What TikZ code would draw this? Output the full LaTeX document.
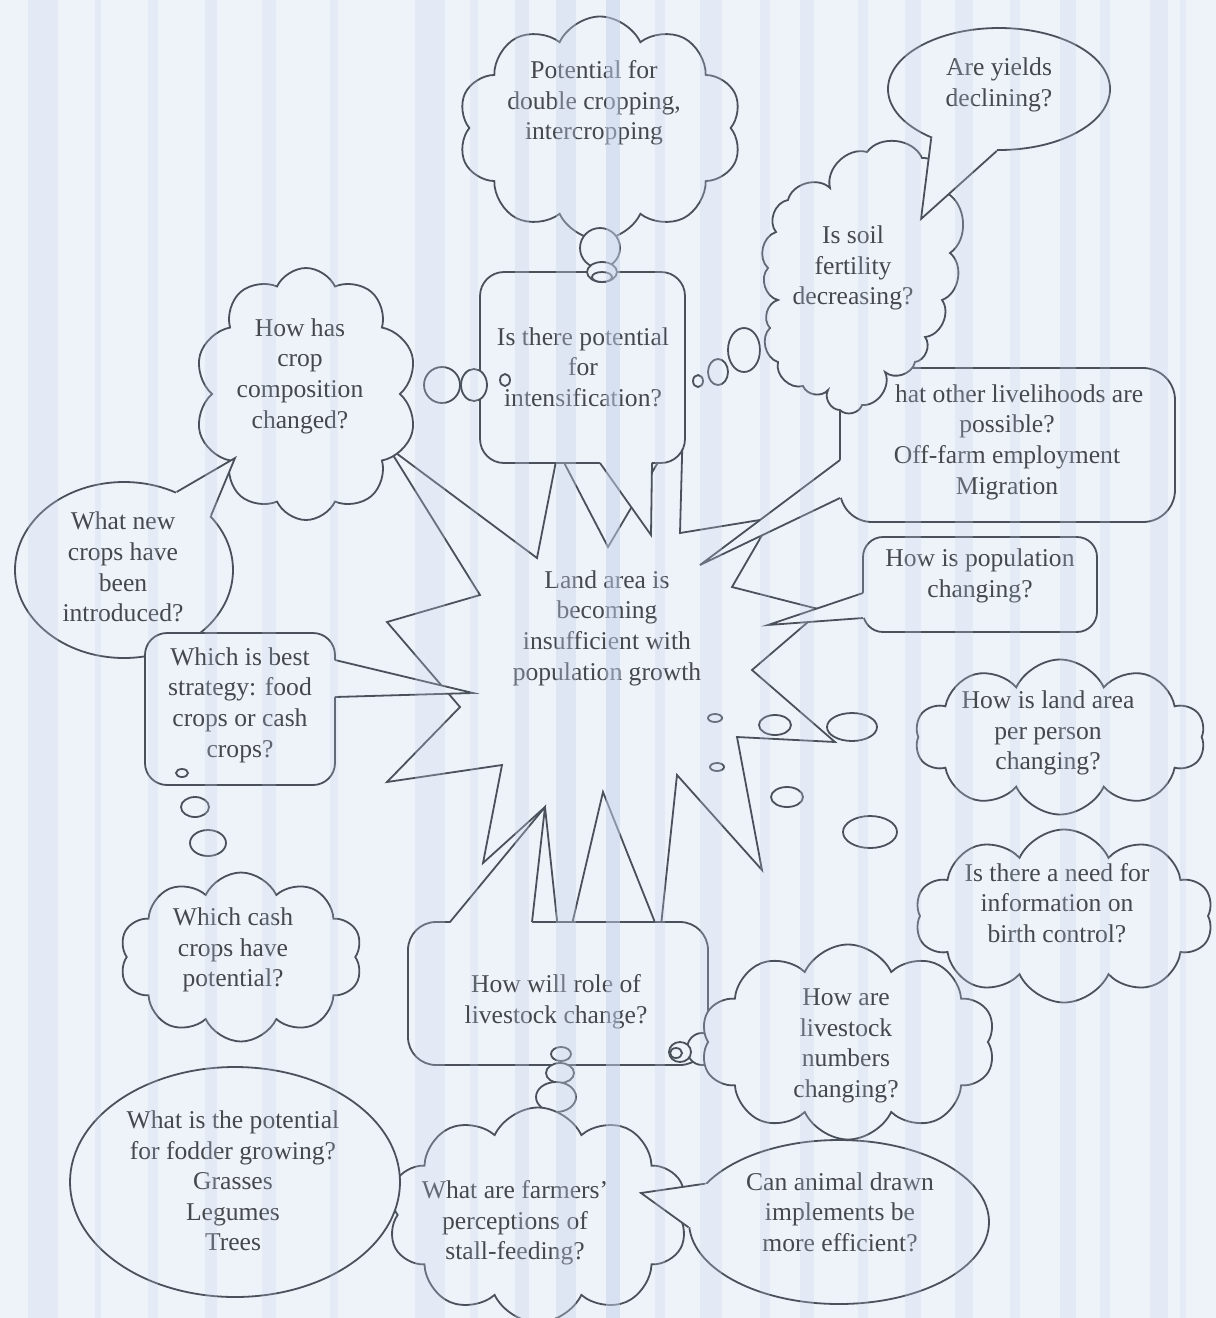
\documentclass[tikz,border=0pt]{standalone}
\usepackage{fontspec}
\setmainfont{Liberation Serif}
\usetikzlibrary{shapes.symbols,shapes.geometric,calc}
\definecolor{bgc}{HTML}{EEF2F9}
\definecolor{lnc}{HTML}{4B515B}
\definecolor{txc}{HTML}{45484D}
\definecolor{stb}{HTML}{C4D2EA}
\tikzset{
 outl/.style={draw=lnc, line width=0.9pt, fill=bgc},
 lnst/.style={draw=lnc, line width=0.9pt, line join=miter},
 txt/.style={text=txc, font=\fontsize{12.8}{15.3}\selectfont, align=center, inner sep=0pt},
 cld/.style={outl, cloud, cloud puffs=10, cloud puff arc=130, cloud ignores aspect, inner sep=0pt},
 oval/.style={outl, ellipse, inner sep=0pt},
 rbox/.style={outl, rectangle, inner sep=0pt},
 bub/.style={outl, ellipse, inner sep=0pt},
 lobe/.style={bend left=60},
}
\newcommand\callptr[4]{%
  \fill[bgc] (#1) -- (#2) -- (#3) -- ($(#3)!3pt!(#4)$) -- ($(#1)!3pt!(#4)$) -- cycle;
  \draw[lnst] (#1) -- (#2) -- (#3);}
\begin{document}
\begin{tikzpicture}[x=0.5pt,y=-0.5pt]
\fill[bgc] (0,0) rectangle (1216,1318);
\useasboundingbox (0,0) rectangle (1216,1318);

% central starburst
\draw[outl, line join=miter] (388,447) -- (480,595) -- (387,622) -- (460,707) -- (387,782) -- (502,765) -- (483,863) -- (545,807) -- (562,967) -- (603,792) -- (660,935) -- (677,775) -- (762,870) -- (737,737) -- (835,742) -- (752,670) -- (822,610) -- (732,587) -- (772,518) -- (680,533) -- (683,420) -- (608,547) -- (558,451) -- (537,558) -- cycle;
\node[txt] (tLand) at (607,628) {Land area is\\becoming\\insufficient with\\population growth};

% potential cloud
\node[cld, minimum width=142pt, minimum height=111.5pt] (cPot) at (600,128) {};
\node[txt] (tPot) at (594,103) {Potential for\\double cropping,\\intercropping};

% intensification box
\node[rbox, rounded corners=12pt, minimum width=102.5pt, minimum height=95.5pt] (IB) at (582.5,367.5) {};
\callptr{600,463}{651,535}{652,463}{IB.center}
\node[txt] (tInt) at (583,367) {Is there potential\\for\\intensification?};
\node[bub, minimum width=20pt, minimum height=20pt] (pb1) at (600,248) {};
\node[bub, minimum width=15pt, minimum height=10pt] (pb2) at (602,272) {};
\node[bub, minimum width=10pt, minimum height=5pt] (pb3) at (602,277) {};

% crop composition cloud
\node[cld, minimum width=111.5pt, minimum height=126pt] (cCrop) at (306,394) {};
\node[txt] (tCrop) at (300,376) {How has\\crop\\composition\\changed?};
\node[bub, minimum width=18pt, minimum height=18pt] (cb1) at (442,385) {};
\node[bub, minimum width=13pt, minimum height=16pt] (cb2) at (474,385) {};
\node[bub, minimum width=5pt, minimum height=6pt] (cb3) at (505,380) {};

% new crops ellipse
\node[oval, minimum width=109pt, minimum height=88pt] (nce) at (124,570) {};
\callptr{nce.56}{235,458}{nce.32}{nce.center}
\node[txt] (tNew) at (123,567) {What new\\crops have\\been\\introduced?};

% strategy box
\node[rbox, rounded corners=11pt, minimum width=95pt, minimum height=76pt] (SB) at (240,709) {};
\callptr{335,660}{473,693}{335,697}{SB.center}
\node[txt] (tStrat) at (240,705) {Which is best\\strategy: food\\crops or cash\\crops?};
\node[bub, minimum width=6pt, minimum height=4pt] (sb1) at (182,773) {};
\node[bub, minimum width=14pt, minimum height=10pt] (sb2) at (195,807) {};
\node[bub, minimum width=18pt, minimum height=13pt] (sb3) at (208,843) {};

% cash crops cloud
\node[cld, minimum width=121.5pt, minimum height=84.5pt] (cCash) at (241,957) {};
\node[txt] (tCash) at (233,950) {Which cash\\crops have\\potential?};

% livelihoods box
\node[rbox, rounded corners=16pt, minimum width=167.5pt, minimum height=77pt] (LB) at (1007.5,445) {};
\callptr{840,460}{700,565}{840,498}{LB.center}
\node[txt] (tLive) at (1007,442) {\phantom{W}hat other livelihoods are\\possible?\\Off-farm employment\\Migration};

% fertility cloud (irregular)
\node[bub, minimum width=5pt, minimum height=6pt] (fb1) at (698,381) {};
\node[bub, minimum width=10pt, minimum height=13pt] (fb2) at (718,372) {};
\node[bub, minimum width=16pt, minimum height=22pt] (fb3) at (744,350) {};
\draw[outl] (788,200) to[lobe] (830,188) to[lobe] (867,152) to[lobe] (922,158) to[lobe] (945,192) to[lobe] (950,253) to[lobe] (942,300) to[lobe] (925,337) to[lobe] (915,362) to[lobe] (885,372) to[lobe] (862,405) to[lobe] (840,410) to[lobe] (828,390) to[lobe] (803,386) to[lobe] (778,362) to[lobe] (770,328) to[lobe] (778,300) to[lobe] (768,268) to[lobe] (776,232) to[lobe] (788,200) -- cycle;
\node[txt] (tFert) at (853,268) {Is soil\\fertility\\decreasing?};

% yields ellipse
\node[oval, minimum width=111pt, minimum height=61pt] (yel) at (999,89) {};
\callptr{yel.216}{921,219}{yel.268}{yel.center}
\node[txt] (tYld) at (999,85) {Are yields\\declining?};

% population box
\node[rbox, rounded corners=10pt, minimum width=117pt, minimum height=47.5pt] (PB) at (980,584.5) {};
\callptr{863,593}{768,625}{863,618}{PB.center}
\node[txt] (tPop) at (980,576) {How is population\\changing?};

% bubbles to right clouds
\node[bub, minimum width=7pt, minimum height=4pt] (ra1) at (715,718) {};
\node[bub, minimum width=16pt, minimum height=10pt] (ra2) at (775,725) {};
\node[bub, minimum width=25pt, minimum height=14pt] (ra3) at (852,727) {};
\node[bub, minimum width=7pt, minimum height=4pt] (rb1) at (717,767) {};
\node[bub, minimum width=16pt, minimum height=10pt] (rb2) at (787,797) {};
\node[bub, minimum width=27pt, minimum height=16pt] (rb3) at (870,832) {};

\node[cld, minimum width=145pt, minimum height=77.5pt] (cLand) at (1060,737) {};
\node[txt] (tLandPP) at (1048,733) {How is land area\\per person\\changing?};
\node[cld, minimum width=149pt, minimum height=86.5pt] (cBirth) at (1064,916) {};
\node[txt] (tBirth) at (1057,903) {Is there a need for\\information on\\birth control?};

% livestock box
\node[rbox, rounded corners=14pt, minimum width=150pt, minimum height=71.5pt] (RB) at (558,993.5) {};
\callptr{450,922}{545,807}{532,922}{RB.center}
\node[txt] (tRole) at (556,1002) {How will role of\\livestock change?};
\node[bub, minimum width=10pt, minimum height=7pt] (lb1) at (561,1054) {};
\node[bub, minimum width=14pt, minimum height=10pt] (lb2) at (560,1073) {};
\node[bub, minimum width=20pt, minimum height=15pt] (lb3) at (556,1097) {};
\node[bub, minimum width=15pt, minimum height=16pt] (lr2) at (702,1049) {};
\node[bub, minimum width=11pt, minimum height=10pt] (lr1) at (680,1052) {};
\node[bub, minimum width=6pt, minimum height=5pt] (lr0) at (676,1053) {};

% livestock numbers cloud
\node[cld, minimum width=147.5pt, minimum height=97.5pt] (cLstk) at (848,1042) {};
\node[txt] (tLstk) at (846,1046) {How are\\livestock\\numbers\\changing?};

% farmers cloud
\node[cld, minimum width=150pt, minimum height=107.5pt] (cFarm) at (538,1215) {};
\node[txt] (tFarm) at (515,1223) {What are farmers'\\perceptions of\\stall-feeding?};

% fodder ellipse
\node[oval, minimum width=165pt, minimum height=115pt] (fod) at (235,1182) {};
\node[txt] (tFod) at (233,1181) {What is the potential\\for fodder growing?\\Grasses\\Legumes\\Trees};

% animal ellipse
\node[oval, minimum width=150pt, minimum height=82pt] (ani) at (839,1222) {};
\callptr{ani.164}{641,1193}{ani.182}{ani.center}
\node[txt] (tAni) at (840,1212) {Can animal drawn\\implements be\\more efficient?};

% scan stripes
\foreach \xa/\w/\op in {28/30/.25,95/6/.2,148/10/.2,205/12/.25,262/14/.2,330/8/.2,415/30/.25,470/8/.2,515/14/.3,556/20/.35,606/14/.5,655/10/.25,700/22/.25,760/10/.2,800/14/.25,858/10/.2,905/16/.25,955/18/.25,1010/10/.2,1060/16/.25,1100/10/.2,1150/18/.25,1180/6/.2}
  \fill[stb, opacity=\op] (\xa,0) rectangle ++(\w,1318);
\end{tikzpicture}
\end{document}
